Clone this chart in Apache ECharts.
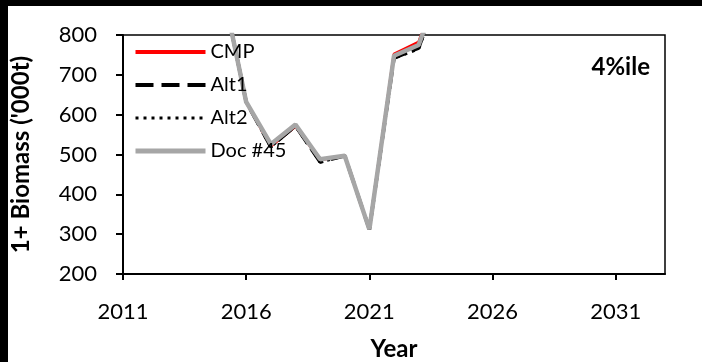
<!DOCTYPE html>
<html>
<head>
<meta charset="utf-8">
<script src="https://cdn.jsdelivr.net/npm/echarts@6/dist/echarts.min.js"></script>
<style>
  html, body { margin: 0; padding: 0; background: #000; width: 702px; height: 362px; overflow: hidden; }
  #chart { position: absolute; left: 8px; top: 6px; width: 694px; height: 356px; background: #fff; }
</style>
</head>
<body>
<div id="chart"></div>
<script>
// Projected 1+ biomass ('000 t), 4th percentile, by year
const years = [2015, 2016, 2017, 2018, 2019, 2020, 2021, 2022, 2023, 2024];
const cmp   = [930, 632, 521, 571, 487, 497, 312, 752, 782, 950];
const alt1  = [930, 632, 519, 572, 481, 497, 312, 742, 767, 940];
const alt2  = [930, 632, 519, 572, 481, 497, 312, 742, 765, 940];
const doc45 = [930, 632, 526, 575, 488, 497, 312, 748, 775, 945];
const xTicks = [2011, 2016, 2021, 2026, 2031];
const yTicks = [200, 300, 400, 500, 600, 700, 800];

const pairs = vals => years.map((y, i) => [y, vals[i]]);
const FONT = 'Lato, "Open Sans", sans-serif';

const styles = {
  'CMP':     { color: '#ff0000', width: 3,   type: 'solid' },
  'Alt1':    { color: '#000000', width: 3.5, type: [18, 8] },
  'Alt2':    { color: '#000000', width: 3,   type: [3, 5] },
  'Doc #45': { color: '#a6a6a6', width: 4.5, type: 'solid' }
};
const legendWidths = { 'CMP': 4, 'Alt1': 4, 'Alt2': 3, 'Doc #45': 5 };
const seriesData = { 'CMP': cmp, 'Alt1': alt1, 'Alt2': alt2, 'Doc #45': doc45 };
const names = ['CMP', 'Alt1', 'Alt2', 'Doc #45'];

const chart = echarts.init(document.getElementById('chart'), null, { renderer: 'canvas' });
chart.setOption({
  animation: false,
  backgroundColor: '#fff',
  grid: {
    left: 115, top: 29, right: 37, bottom: 88,
    outerBoundsMode: 'none', containLabel: false,
    show: true, borderColor: '#000', borderWidth: 1.5, backgroundColor: 'transparent'
  },
  title: {
    text: '4%ile', right: 52, top: 49, padding: 0,
    textStyle: { fontFamily: FONT, fontSize: 24, fontWeight: 'bold', color: '#000' }
  },
  legend: {
    orient: 'vertical', left: 125, top: 36, padding: 0,
    itemWidth: 70, itemHeight: 14, itemGap: 13,
    itemStyle: { opacity: 0 },
    textStyle: { fontFamily: FONT, fontSize: 20, lineHeight: 20, color: '#000' },
    data: names.map(n => ({
      name: n,
      lineStyle: { color: styles[n].color, width: legendWidths[n], type: styles[n].type }
    }))
  },
  xAxis: {
    type: 'value', min: 2011, max: 2033,
    name: 'Year', nameLocation: 'middle', nameGap: 63,
    nameTextStyle: { fontFamily: FONT, fontSize: 24, fontWeight: 'bold', color: '#000' },
    axisLine: { show: true, lineStyle: { color: '#000', width: 2 } },
    axisTick: { show: true, inside: false, length: 6, customValues: xTicks, lineStyle: { color: '#000', width: 2 } },
    axisLabel: { customValues: xTicks, margin: 27, fontFamily: FONT, fontSize: 22, color: '#000',
                 formatter: v => String(v) },
    splitLine: { show: false }
  },
  yAxis: {
    type: 'value', min: 200, max: 800, interval: 100,
    name: "1+ Biomass ('000t)", nameLocation: 'middle', nameGap: 90,
    nameTextStyle: { fontFamily: FONT, fontSize: 24, fontWeight: 'bold', color: '#000' },
    axisLine: { show: true, lineStyle: { color: '#000', width: 2 } },
    axisTick: { show: true, inside: false, length: 7, customValues: yTicks, lineStyle: { color: '#000', width: 2 } },
    axisLabel: { customValues: yTicks, margin: 26, fontFamily: FONT, fontSize: 22, color: '#000' },
    splitLine: { show: false }
  },
  series: names.map(n => ({
    name: n, type: 'line', data: pairs(seriesData[n]), symbol: 'none', clip: true,
    lineStyle: { color: styles[n].color, width: styles[n].width, type: styles[n].type },
    itemStyle: { color: styles[n].color }
  }))
});
</script>
</body>
</html>
